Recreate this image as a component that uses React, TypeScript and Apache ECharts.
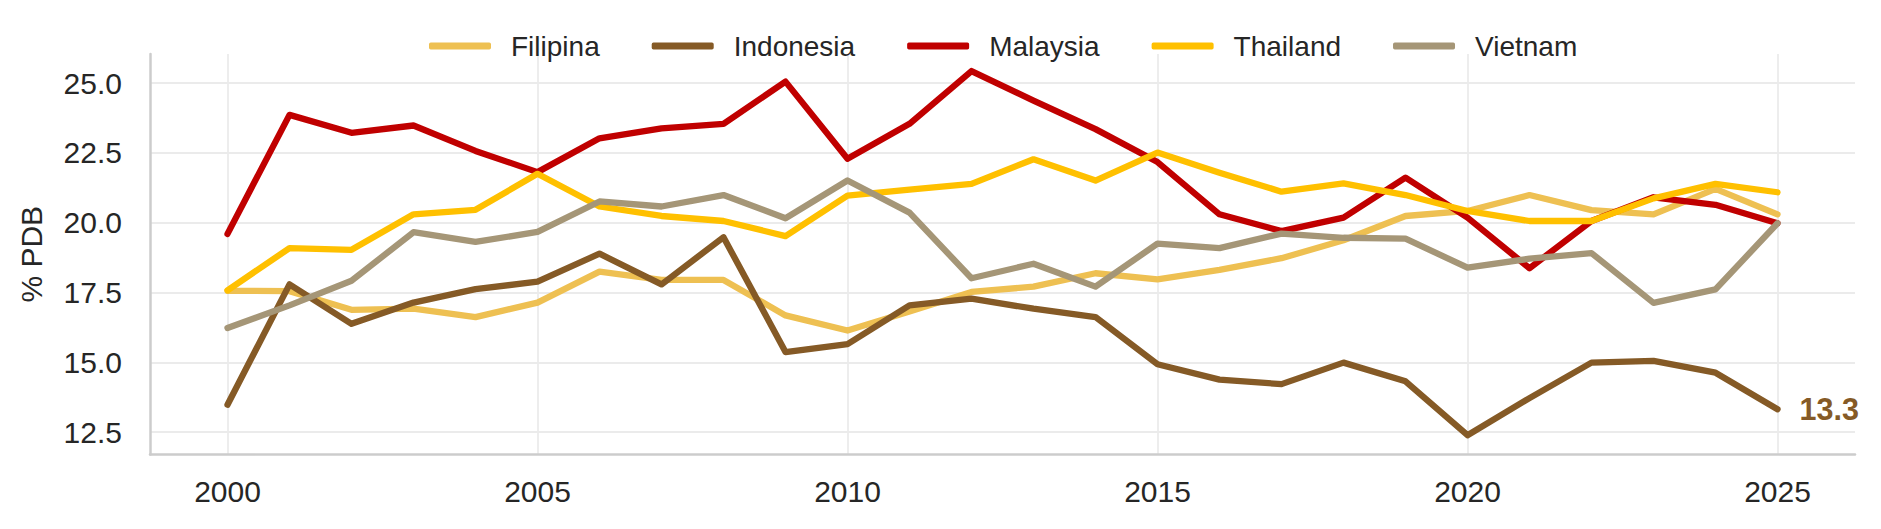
import React, { useEffect, useRef } from "react";
import * as echarts from "echarts";

const years = [2000, 2001, 2002, 2003, 2004, 2005, 2006, 2007, 2008, 2009, 2010, 2011, 2012, 2013, 2014, 2015, 2016, 2017, 2018, 2019, 2020, 2021, 2022, 2023, 2024, 2025];

const filipina = [17.56, 17.55, 16.88, 16.92, 16.62, 17.14, 18.25, 17.95, 17.95, 16.68, 16.14, 16.82, 17.52, 17.71, 18.19, 17.97, 18.31, 18.73, 19.37, 20.24, 20.42, 20.99, 20.45, 20.30, 21.21, 20.30];
const indonesia = [13.48, 17.79, 16.38, 17.14, 17.62, 17.89, 18.89, 17.79, 19.48, 15.37, 15.65, 17.04, 17.28, 16.92, 16.62, 14.93, 14.38, 14.22, 14.99, 14.32, 12.39, 13.72, 14.99, 15.05, 14.63, 13.32];
const malaysia = [19.6, 23.86, 23.22, 23.48, 22.57, 21.81, 23.02, 23.38, 23.54, 25.05, 22.29, 23.54, 25.43, 24.37, 23.35, 22.17, 20.3, 19.7, 20.18, 21.61, 20.18, 18.37, 20.06, 20.91, 20.64, 19.98];
const thailand = [17.58, 19.09, 19.03, 20.3, 20.46, 21.75, 20.58, 20.24, 20.06, 19.52, 20.97, 21.18, 21.39, 22.27, 21.51, 22.51, 21.79, 21.11, 21.41, 20.99, 20.42, 20.06, 20.06, 20.87, 21.39, 21.09];
const vietnam = [16.23, 17.04, 17.92, 19.66, 19.31, 19.67, 20.76, 20.58, 20.99, 20.16, 21.51, 20.36, 18.01, 18.53, 17.71, 19.25, 19.09, 19.61, 19.46, 19.43, 18.39, 18.71, 18.91, 17.13, 17.61, 19.98];

const xTicks = [2000, 2005, 2010, 2015, 2020, 2025];
const yTicks = [12.5, 15.0, 17.5, 20.0, 22.5, 25.0];

const seriesNames = ["Filipina", "Indonesia", "Malaysia", "Thailand", "Vietnam"];
const seriesValues = [filipina, indonesia, malaysia, thailand, vietnam];
const colors = ["#EEC052", "#855A26", "#C00000", "#FFC000", "#A59677"];
const labelledSeries = "Indonesia";

const FONT = "'Liberation Sans', Arial, sans-serif";
const TEXT = "#262626";

export default function App() {
  const ref = useRef<HTMLDivElement>(null);
  useEffect(() => {
    if (!ref.current) return;
    const chart = echarts.init(ref.current, undefined, { renderer: "svg" });
    const series = seriesNames.map((name, i) => {
      const vals = seriesValues[i];
      const data = years.map((y, j) => [y, vals[j]]);
      const s: any = {
        name,
        type: "line",
        data,
        showSymbol: false,
        symbol: "none",
        lineStyle: { color: colors[i], width: 6.3, cap: "round", join: "round" },
        itemStyle: { color: colors[i] },
        emphasis: { disabled: true },
      };
      if (name === labelledSeries) {
        s.endLabel = {
          show: true,
          distance: 22,
          formatter: () => vals[vals.length - 1].toFixed(1),
          color: colors[i],
          fontFamily: FONT,
          fontWeight: "bold",
          fontSize: 30.5,
        };
      }
      return s;
    });
    chart.setOption({
      animation: false,
      backgroundColor: "#ffffff",
      textStyle: { fontFamily: FONT },
      legend: {
        show: true,
        left: 424,
        top: 27,
        icon: "roundRect",
        itemWidth: 62,
        itemHeight: 7,
        itemGap: 52,
        textStyle: { fontFamily: FONT, fontSize: 28, color: TEXT, padding: [0, 0, 0, 15] },
        data: seriesNames,
      },
      grid: {
        left: 150,
        right: 26,
        top: 54,
        bottom: 74.5,
        containLabel: false,
      },
      xAxis: {
        type: "value",
        min: 1998.75,
        max: 2026.25,
        axisLine: { show: true, lineStyle: { color: "#cccccc", width: 2.5 } },
        axisTick: { show: false, customValues: xTicks },
        axisLabel: {
          customValues: xTicks,
          formatter: (v: number) => String(v),
          fontFamily: FONT,
          fontSize: 30,
          color: TEXT,
          margin: 22,
        },
        splitLine: { show: true, lineStyle: { color: "#ebebeb", width: 1.8 } },
      },
      yAxis: {
        type: "value",
        min: 11.7,
        max: 26.04,
        name: "% PDB",
        nameLocation: "middle",
        nameGap: 104,
        nameTextStyle: { fontFamily: FONT, fontSize: 30, color: TEXT },
        axisLine: { show: true, lineStyle: { color: "#cccccc", width: 2.5 } },
        axisTick: { show: false, customValues: yTicks },
        axisLabel: {
          customValues: yTicks,
          formatter: (v: number) => v.toFixed(1),
          fontFamily: FONT,
          fontSize: 30,
          color: TEXT,
          margin: 28,
        },
        splitLine: { show: true, lineStyle: { color: "#ebebeb", width: 1.8 } },
      },
      series,
    });
    return () => chart.dispose();
  }, []);
  return (
    <div
      ref={ref}
      style={{ position: "fixed", left: 0, top: 0, width: 1881, height: 529, background: "#fff" }}
    />
  );
}
